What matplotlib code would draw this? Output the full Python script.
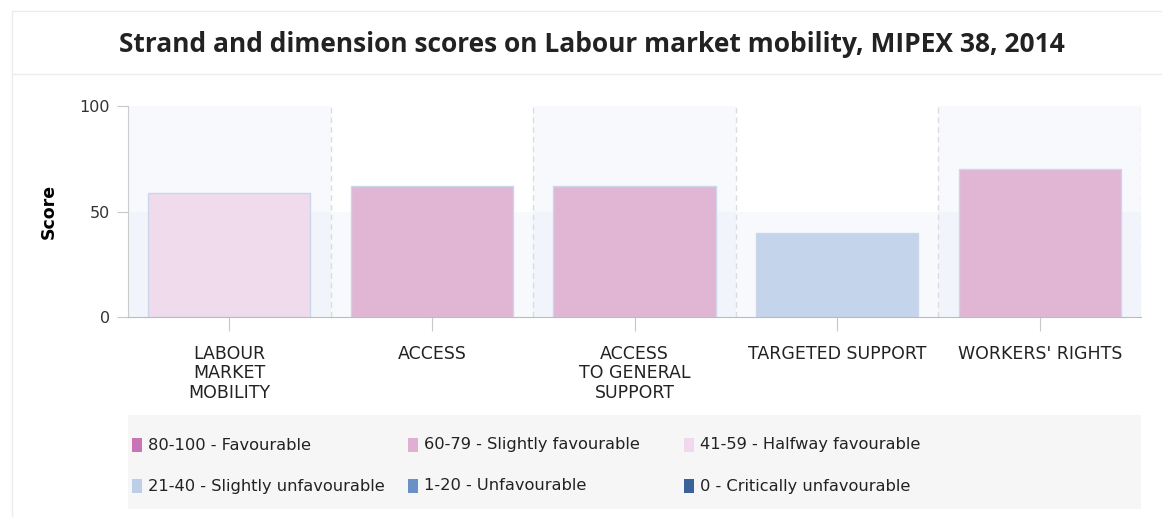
import matplotlib
matplotlib.use("Agg")
import matplotlib.pyplot as plt
from matplotlib.patches import Rectangle
from matplotlib.lines import Line2D

# -----------------------------
# Data
# -----------------------------
categories = ["LABOUR\nMARKET\nMOBILITY", "ACCESS", "ACCESS\nTO GENERAL\nSUPPORT",
              "TARGETED SUPPORT", "WORKERS' RIGHTS"]
scores = [59, 62, 62, 40, 70]

legend_labels = ["80-100 - Favourable", "60-79 - Slightly favourable", "41-59 - Halfway favourable",
                 "21-40 - Slightly unfavourable", "1-20 - Unfavourable", "0 - Critically unfavourable"]
legend_colors = ["#c975b5", "#e0b0d2", "#f0d9ec", "#bdcfe8", "#6b90c6", "#3a6299"]
bins = [80, 60, 41, 21, 1, 0]


def score_color(v):
    for lo, c in zip(bins, legend_colors):
        if v >= lo:
            return c
    return legend_colors[-1]


bar_colors = {"#e0b0d2": "#e1b5d4", "#f0d9ec": "#efdbec", "#bdcfe8": "#c4d4ea"}

# -----------------------------
# Figure
# -----------------------------
W, H = 1162, 517
fig = plt.figure(figsize=(W / 100, H / 100), dpi=100)
fig.patch.set_facecolor("white")


def fx(px):
    return px / W


def fy(py):
    return 1 - py / H


# card frame
card = "#ececec"
fig.add_artist(Line2D([fx(12), fx(12)], [fy(11), fy(517)], color=card, lw=1))
fig.add_artist(Line2D([fx(12), 1], [fy(11), fy(11)], color=card, lw=1))
fig.add_artist(Line2D([fx(12), 1], [fy(74), fy(74)], color=card, lw=1))

fig.text(fx(592), fy(45), "Strand and dimension scores on Labour market mobility, MIPEX 38, 2014",
         ha="center", va="center", fontsize=19, fontweight="bold",
         family="Open Sans", color="#222222")

ax = fig.add_axes([fx(128), fy(317), fx(1141) - fx(128), (317 - 106) / H])
x = list(range(len(categories)))

# background bands
ax.axhspan(0, 50, color="#dfe7f7", alpha=0.22, lw=0, zorder=0)
for i in x:
    if i % 2 == 0:
        ax.axvspan(i - 0.5, i + 0.5, color="#dfe7f7", alpha=0.22, lw=0, zorder=0)
for i in x:
    ax.axvline(i + 0.5, color="#dcdcdc", lw=1, ls=(0, (4, 3)), zorder=1)

colors = [bar_colors.get(score_color(v), score_color(v)) for v in scores]
ax.bar(x, scores, width=0.8, color=colors, edgecolor="#ccd6eb", linewidth=1, zorder=2)

ax.set_xlim(-0.5, len(categories) - 0.5)
ax.set_ylim(0, 100)
ax.set_yticks([0, 50, 100])
ax.set_xticks(x)
ax.set_xticklabels(categories, fontsize=12.5, color="#222222", linespacing=1.1,
                   family="DejaVu Sans")
ax.tick_params(axis="x", length=10, color="#c8c8c8", pad=10)
ax.tick_params(axis="y", length=8, color="#c8c8c8", labelsize=11.5, labelcolor="#333333", pad=5)
ax.set_ylabel("Score", fontsize=12.5, fontweight="bold", labelpad=15.5)
for s in ["top", "right"]:
    ax.spines[s].set_visible(False)
ax.spines["left"].set_color("#cccccc")
ax.spines["bottom"].set_color("#bbbbbb")
ax.set_facecolor("none")

# -----------------------------
# Legend
# -----------------------------
fig.add_artist(Rectangle((fx(128), fy(509)), fx(1141) - fx(128), (509 - 415) / H,
                         transform=fig.transFigure, facecolor="#f6f6f6", edgecolor="none"))
for k, (lab, col) in enumerate(zip(legend_labels, legend_colors)):
    cx = 132 + (k % 3) * 276
    cy = 445 + (k // 3) * 41
    fig.add_artist(Rectangle((fx(cx), fy(cy + 7)), 10 / W, 14 / H, transform=fig.transFigure,
                             facecolor=col, edgecolor="none"))
    fig.text(fx(cx + 16), fy(cy), lab, ha="left", va="center", fontsize=11.7,
             color="#222222", family="DejaVu Sans")

fig.savefig("out.png", dpi=100)
